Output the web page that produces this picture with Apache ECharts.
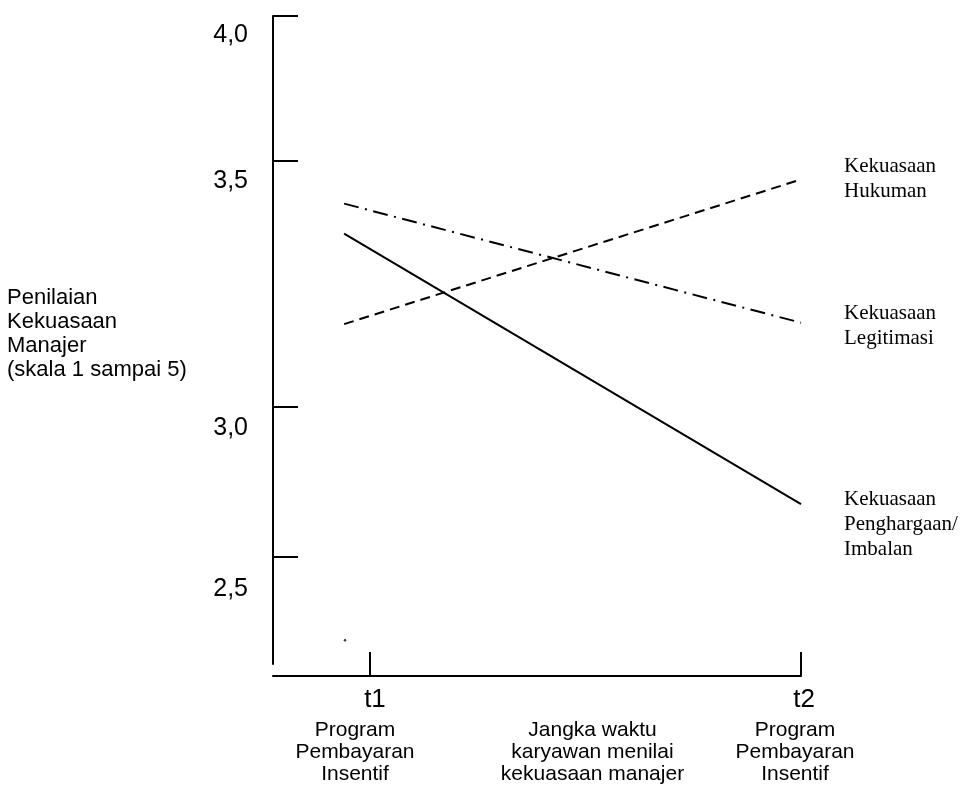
<!DOCTYPE html>
<html>
<head>
<meta charset="utf-8">
<script src="https://cdn.jsdelivr.net/npm/echarts@6/dist/echarts.min.js"></script>
<style>
html,body{margin:0;padding:0;background:#fff;}
#chart{width:960px;height:788px;}
</style>
</head>
<body>
<div id="chart"></div>
<script>
// ---- data ----
const lineX = [0.94, 2.0];                 // time-axis positions of the line ends
const hukuman = [3.146, 3.547];            // Kekuasaan Hukuman
const legitimasi = [3.480, 3.150];         // Kekuasaan Legitimasi
const penghargaan = [3.397, 2.647];        // Kekuasaan Penghargaan/Imbalan
const strayDot = [0.942, 2.270];           // small stray dot

const seriesNames = ['Kekuasaan\nHukuman', 'Kekuasaan\nLegitimasi', 'Kekuasaan\nPenghargaan/\nImbalan'];

const yTickValues = [4.0, 3.598, 2.916, 2.5];
const yTickLabels = ['4,0', '3,5', '3,0', '2,5'];

const xTickValues = [1, 2];
const xTickLabels = ['t1', 't2'];
const xNoteValue = 1.5;
const periodNote = ['Program', 'Pembayaran', 'Insentif'];
const middleNote = ['Jangka waktu', 'karyawan menilai', 'kekuasaan manajer'];

const yTitle = ['Penilaian', 'Kekuasaan', 'Manajer', '(skala 1 sampai 5)'];

// ---- chart ----
const SANS = "'Liberation Sans', Arial, Helvetica, sans-serif";
const SERIF = "'Liberation Serif', 'Times New Roman', serif";
const chart = echarts.init(document.getElementById('chart'), null, {renderer: 'canvas'});

function pair(xs, ys) { return xs.map((x, i) => [x, ys[i]]); }

const yPad = [38, 40, 42, 64];
const yRich = {};
yTickLabels.forEach((l, i) => {
  yRich['y' + i] = {fontSize: 25, fontFamily: SANS, color: '#000', padding: [yPad[i], 0, 0, 0]};
});

const endLabel = (extra) => Object.assign({
  show: true,
  formatter: (p) => p.seriesName,
  distance: 43,
  align: 'left',
  verticalAlign: 'middle',
  fontFamily: SERIF,
  fontSize: 21,
  lineHeight: 25,
  color: '#000'
}, extra || {});

const option = {
  animation: false,
  backgroundColor: '#fff',
  title: {
    text: yTitle.join('\n'),
    left: 7,
    top: 286,
    padding: 0,
    textStyle: {fontFamily: SANS, fontSize: 22, fontWeight: 'normal', lineHeight: 24, color: '#000'}
  },
  grid: {left: 273, right: 159, top: 16, bottom: 124},
  xAxis: {
    type: 'value',
    min: 0.775,
    max: 2,
    offset: 12,
    splitLine: {show: false},
    axisLine: {show: true, onZero: false, lineStyle: {color: '#000', width: 2}},
    axisTick: {show: true, inside: true, length: 24, customValues: xTickValues, lineStyle: {color: '#000', width: 2}},
    axisLabel: {
      show: true,
      margin: 5,
      customValues: xTickValues.concat([xNoteValue]),
      formatter: function (v) {
        const i = xTickValues.indexOf(v);
        if (i >= 0) {
          const s = i === 0 ? 's1' : 's2';
          const t = i === 0 ? 't1' : 't2';
          return '{' + t + '|' + xTickLabels[i] + '}\n' + periodNote.map(n => '{' + s + '|' + n + '}').join('\n');
        }
        return '{tm| }\n' + middleNote.map(n => '{m|' + n + '}').join('\n');
      },
      rich: {
        t1: {fontFamily: SANS, fontSize: 26, lineHeight: 38, color: '#000', padding: [0, 0, 0, 10]},
        t2: {fontFamily: SANS, fontSize: 26, lineHeight: 38, color: '#000', padding: [0, 0, 0, 6]},
        tm: {fontFamily: SANS, fontSize: 26, lineHeight: 38, color: '#000'},
        s1: {fontFamily: SANS, fontSize: 21, lineHeight: 22, color: '#000', padding: [0, 30, 0, 0]},
        s2: {fontFamily: SANS, fontSize: 21, lineHeight: 22, color: '#000', padding: [0, 12, 0, 0]},
        m: {fontFamily: SANS, fontSize: 21, lineHeight: 22, color: '#000', padding: [0, 0, 0, 14]}
      }
    }
  },
  yAxis: {
    type: 'value',
    min: 2.204,
    max: 4.0,
    splitLine: {show: false},
    axisLine: {show: true, onZero: false, lineStyle: {color: '#000', width: 2}},
    axisTick: {show: true, inside: true, length: 25, customValues: yTickValues, lineStyle: {color: '#000', width: 2}},
    axisLabel: {
      show: true,
      margin: 25,
      customValues: yTickValues,
      formatter: function (v) {
        const i = yTickValues.indexOf(v);
        return i >= 0 ? '{y' + i + '|' + yTickLabels[i] + '}' : '';
      },
      rich: yRich
    }
  },
  series: [
    {
      name: seriesNames[0],
      type: 'line',
      data: pair(lineX, hukuman),
      symbol: 'none',
      clip: false,
      lineStyle: {color: '#000', width: 2, type: [10, 6]},
      endLabel: endLabel()
    },
    {
      name: seriesNames[1],
      type: 'line',
      data: pair(lineX, legitimasi),
      symbol: 'none',
      clip: false,
      lineStyle: {color: '#000', width: 2, type: [15, 6.5, 2, 6.5]},
      endLabel: endLabel({offset: [0, 3]})
    },
    {
      name: seriesNames[2],
      type: 'line',
      data: pair(lineX, penghargaan),
      symbol: 'none',
      clip: false,
      lineStyle: {color: '#000', width: 2, type: 'solid'},
      endLabel: endLabel({offset: [0, 20]})
    },
    {
      name: 'dot',
      type: 'scatter',
      data: [strayDot],
      symbol: 'circle',
      symbolSize: 2.5,
      itemStyle: {color: '#000'},
      silent: true
    }
  ]
};
chart.setOption(option);
</script>
</body>
</html>
